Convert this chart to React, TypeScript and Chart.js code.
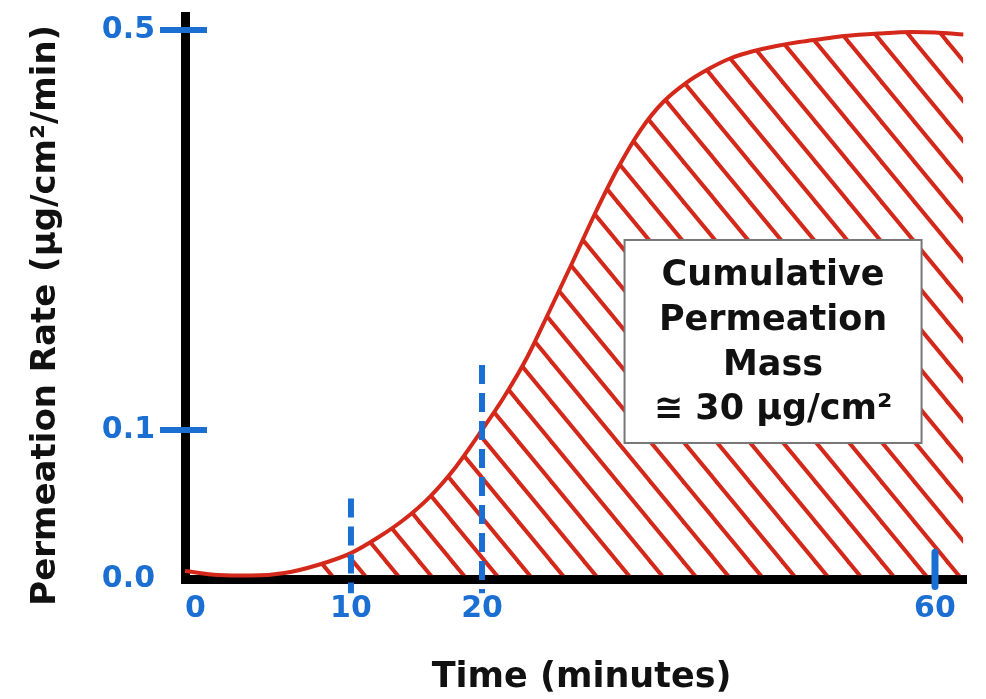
import React, { useEffect, useRef } from 'react';
import { Chart, registerables, LinearScale } from 'chart.js';

Chart.register(...registerables);

// ---- data ----
const timeMinutes = [0, 2, 4, 6, 8, 10, 12, 14, 16, 18, 20, 22, 24, 26, 28, 30, 32, 34, 36, 38, 40, 42, 44, 46, 48, 50, 52, 55, 58, 60, 62.5];
const permeationRate = [0.0054, 0.0027, 0.0023, 0.004, 0.0094, 0.0174, 0.0275, 0.0396, 0.055, 0.0752, 0.1, 0.134, 0.173, 0.22, 0.268, 0.317, 0.362, 0.4, 0.428, 0.447, 0.461, 0.472, 0.479, 0.484, 0.488, 0.491, 0.494, 0.4965, 0.498, 0.4975, 0.4955];
const xTickValues = [0, 10, 20, 60];
const xTickLabels = ['0', '10', '20', '60'];
const yTickValues = [0, 0.1, 0.5];
const yTickLabels = ['0.0', '0.1', '0.5'];
const yMarkValues = [0.1, 0.5];
const dashedMarkTimes = [10, 20];
const dashedMarkTops = [0.054, 0.165];
const hatchStartTime = 8;
const boxLines = ['Cumulative', 'Permeation', 'Mass', '≅ 30 µg/cm²'];
const boxCenter = { x: 45.7, y: 0.1885 };

// schematic (non-uniform) axis layout: value -> fraction of axis length
const X_BREAKS = [[0, 0], [10, 0.2125], [20, 0.3803], [60, 0.9603]];
const Y_BREAKS = [[0, 0], [0.1, 0.2647], [0.5, 0.9751]];

const RED = '#d3281a';
const BLUE = '#1c6fd2';
const FONT = 'DejaVu Sans';

class PiecewiseScale extends LinearScale {
  static id = 'piecewise';
  static defaults = LinearScale.defaults;
  _breaks() {
    return this.isHorizontal() ? X_BREAKS : Y_BREAKS;
  }
  _frac(v: number) {
    const b = this._breaks();
    let i = 0;
    while (i < b.length - 2 && v > b[i + 1][0]) i++;
    const a = b[i], c = b[i + 1];
    return a[1] + ((v - a[0]) * (c[1] - a[1])) / (c[0] - a[0]);
  }
  getPixelForValue(v: number) {
    const f = this._frac(v);
    return this.isHorizontal() ? this.left + f * this.width : this.bottom - f * this.height;
  }
  getValueForPixel(p: number) {
    const b = this._breaks();
    const f = this.isHorizontal() ? (p - this.left) / this.width : (this.bottom - p) / this.height;
    let i = 0;
    while (i < b.length - 2 && f > b[i + 1][1]) i++;
    const a = b[i], c = b[i + 1];
    return a[0] + ((f - a[1]) * (c[0] - a[0])) / (c[1] - a[1]);
  }
}
Chart.register(PiecewiseScale as any);

function makeHatch(): CanvasPattern | string {
  const w = 33, h = 40;
  const c = document.createElement('canvas');
  c.width = w; c.height = h;
  const g = c.getContext('2d');
  if (!g) return RED;
  g.strokeStyle = RED;
  g.lineWidth = 4;
  for (let k = -1; k <= 1; k++) {
    g.beginPath();
    g.moveTo(k * w - w, -h);
    g.lineTo(k * w + 2 * w, 2 * h);
    g.stroke();
  }
  const p = g.createPattern(c, 'repeat');
  if (!p) return RED;
  try { p.setTransform(new DOMMatrix().translate(22, 0)); } catch (e) { /* ignore */ }
  return p;
}

const marksPlugin = {
  id: 'marks',
  afterDatasetsDraw(chart: any) {
    const { ctx, chartArea, scales } = chart;
    const x = scales.x, y = scales.y;
    ctx.save();
    ctx.strokeStyle = BLUE;
    // horizontal tick dashes on y axis
    ctx.lineWidth = 6;
    yMarkValues.forEach((v) => {
      const py = y.getPixelForValue(v);
      ctx.beginPath();
      ctx.moveTo(chartArea.left - 25, py);
      ctx.lineTo(chartArea.left + 22, py);
      ctx.stroke();
    });
    // dashed verticals
    ctx.lineWidth = 6;
    ctx.setLineDash([19, 9]);
    dashedMarkTimes.forEach((t, i) => {
      const px = x.getPixelForValue(t);
      ctx.beginPath();
      ctx.moveTo(px, y.getPixelForValue(dashedMarkTops[i]));
      ctx.lineTo(px, y.getPixelForValue(-0.0095));
      ctx.stroke();
    });
    ctx.setLineDash([]);
    // 60 tick
    const p60 = x.getPixelForValue(60);
    ctx.lineWidth = 7;
    ctx.lineCap = 'round';
    ctx.beginPath();
    ctx.moveTo(p60, y.getPixelForValue(0.018));
    ctx.lineTo(p60, y.getPixelForValue(-0.005));
    ctx.stroke();
    ctx.lineCap = 'butt';

    // annotation box
    const cx = x.getPixelForValue(boxCenter.x);
    const cy = y.getPixelForValue(boxCenter.y);
    const bw = 297, bh = 203;
    ctx.fillStyle = '#ffffff';
    ctx.fillRect(cx - bw / 2, cy - bh / 2, bw, bh);
    ctx.strokeStyle = '#777777';
    ctx.lineWidth = 2;
    ctx.strokeRect(cx - bw / 2, cy - bh / 2, bw, bh);
    ctx.fillStyle = '#111111';
    ctx.font = `bold 35px "${FONT}"`;
    ctx.textAlign = 'center';
    ctx.textBaseline = 'middle';
    const offs = [-66, -21, 24, 68];
    boxLines.forEach((s, i) => ctx.fillText(s, cx, cy + offs[i]));
    ctx.restore();
  },
};

export default function App() {
  const ref = useRef<HTMLCanvasElement>(null);
  useEffect(() => {
    const canvas = ref.current;
    if (!canvas) return;
    const hatch = makeHatch();
    const curve = timeMinutes.map((t, i) => ({ x: t, y: permeationRate[i] }));
    const hatchData = curve.filter((p) => p.x >= hatchStartTime);
    const chart = new Chart(canvas, {
      type: 'line',
      data: {
        datasets: [
          {
            label: 'Permeation rate',
            data: curve,
            borderColor: RED,
            borderWidth: 4,
            pointRadius: 0,
            cubicInterpolationMode: 'monotone',
            fill: false,
          },
          {
            label: 'Cumulative mass',
            data: hatchData,
            borderWidth: 0,
            borderColor: 'rgba(0,0,0,0)',
            backgroundColor: hatch as any,
            pointRadius: 0,
            cubicInterpolationMode: 'monotone',
            fill: { value: 0.0025 } as any,
          },
        ],
      },
      options: {
        animation: false,
        responsive: true,
        maintainAspectRatio: false,
        layout: { padding: { top: 16, right: 20, bottom: 0, left: 0 } },
        plugins: { legend: { display: false }, tooltip: { enabled: false } },
        scales: {
          x: {
            type: 'piecewise' as any,
            min: 0,
            max: 62.8,
            grid: { display: false },
            border: { display: true, color: '#000', width: 9 },
            afterBuildTicks: (axis: any) => { axis.ticks = xTickValues.map((v) => ({ value: v })); },
            afterFit: (axis: any) => {
              axis.height = 120;
              axis.paddingLeft = 0;
              axis.paddingRight = 0;
            },
            ticks: {
              autoSkip: false,
              maxRotation: 0,
              padding: 4,
              color: BLUE,
              font: { family: FONT, weight: 'bold', size: 30 },
              callback: (_v: any, i: number) => (i === 0 ? '  ' : '') + xTickLabels[i],
            },
            title: {
              display: true,
              text: ' Time (minutes)',
              color: '#111',
              font: { family: FONT, weight: 'bold', size: 35 },
              padding: { top: 0, bottom: 0 },
            },
          } as any,
          y: {
            type: 'piecewise' as any,
            min: 0,
            max: 0.514,
            grid: { display: false },
            border: { display: true, color: '#000', width: 9 },
            afterBuildTicks: (axis: any) => { axis.ticks = yTickValues.map((v) => ({ value: v })); },
            afterFit: (axis: any) => {
              axis.width = 185;
              axis.paddingTop = 0;
              axis.paddingBottom = 0;
            },
            ticks: {
              autoSkip: false,
              padding: 22,
              color: BLUE,
              font: { family: FONT, weight: 'bold', size: 30 },
              callback: (_v: any, i: number) => yTickLabels[i],
            },
            title: {
              display: true,
              text: 'Permeation Rate (µg/cm²/min)   ',
              color: '#111',
              font: { family: FONT, weight: 'bold', size: 34 },
              padding: { top: 26, bottom: 0 },
            },
          } as any,
        },
      },
      plugins: [marksPlugin],
    });
    return () => chart.destroy();
  }, []);
  return (
    <div style={{ position: 'fixed', left: 0, top: 0, width: 986, height: 699, background: '#fff' }}>
      <canvas ref={ref} style={{ display: 'block' }} />
    </div>
  );
}
